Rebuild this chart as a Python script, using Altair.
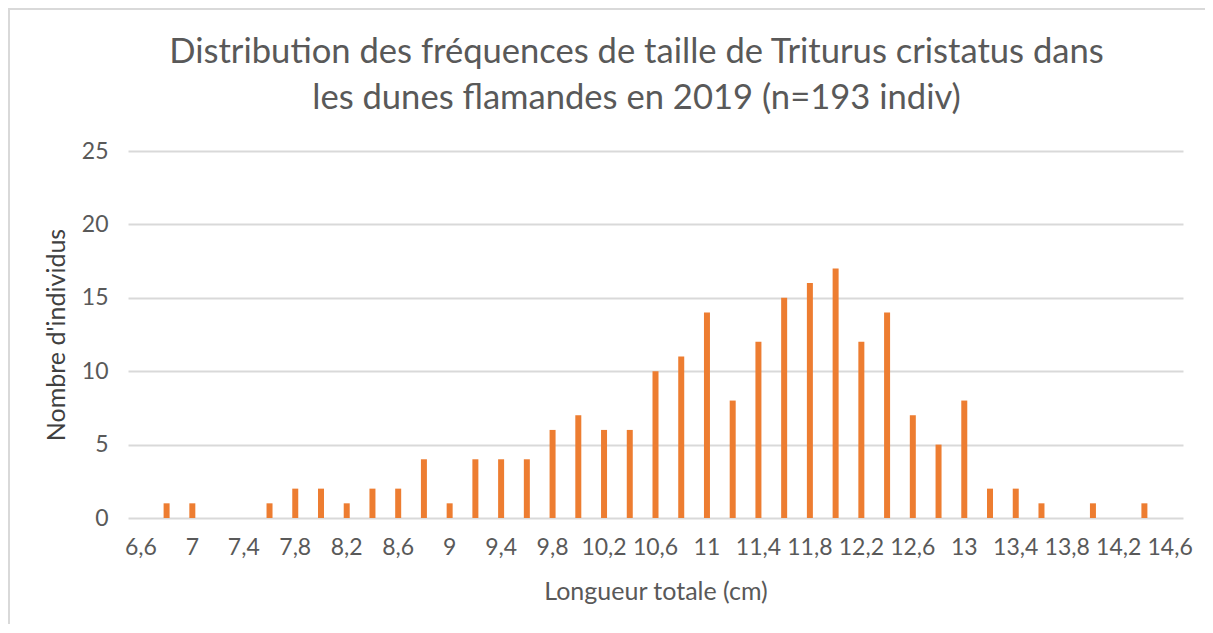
import altair as alt
import pandas as pd

lengths = ["6,6", "6,8", "7", "7,2", "7,4", "7,6", "7,8", "8", "8,2", "8,4", "8,6",
           "8,8", "9", "9,2", "9,4", "9,6", "9,8", "10", "10,2", "10,4", "10,6",
           "10,8", "11", "11,2", "11,4", "11,6", "11,8", "12", "12,2", "12,4", "12,6",
           "12,8", "13", "13,2", "13,4", "13,6", "13,8", "14", "14,2", "14,4", "14,6"]
counts = [0, 1, 1, 0, 0, 1, 2, 2, 1, 2, 2,
          4, 1, 4, 4, 4, 6, 7, 6, 6, 10,
          11, 14, 8, 12, 15, 16, 17, 12, 14, 7,
          5, 8, 2, 2, 1, 0, 1, 0, 1, 0]
shown_labels = lengths[::2]
y_ticks = [0, 5, 10, 15, 20, 25]

df = pd.DataFrame({"Longueur": lengths, "Nombre": counts})

FONT = "Lato"
GREY = "#595959"
BORDER = "#d9d9d9"

bars = alt.Chart(df).mark_bar(color="#ED7D31", size=6).encode(
    x=alt.X("Longueur:N", sort=lengths,
            scale=alt.Scale(paddingInner=0, paddingOuter=0),
            axis=alt.Axis(title="Longueur totale (cm)", values=shown_labels,
                          labelAngle=0, labelFontSize=23, labelColor=GREY,
                          labelPadding=18, ticks=False, domain=False, grid=False,
                          titleFontSize=25, titleColor=GREY, titleFontWeight="normal",
                          titlePadding=20, labelFont=FONT, titleFont=FONT)),
    y=alt.Y("Nombre:Q", scale=alt.Scale(domain=[0, 25]),
            axis=alt.Axis(title="Nombre d'individus", values=y_ticks,
                          labelFontSize=23, labelColor=GREY, labelPadding=20,
                          ticks=False, domain=False, grid=True, gridColor=BORDER,
                          gridWidth=2, titleFontSize=25, titleColor="#404040",
                          titleFontWeight="normal", titlePadding=12,
                          labelFont=FONT, titleFont=FONT)),
)

frame = alt.Data(values=[{}])
top_border = alt.Chart(frame).mark_rule(color=BORDER, strokeWidth=2).encode(
    x=alt.value(-120), x2=alt.value(1077), y=alt.value(-142))
left_border = alt.Chart(frame).mark_rule(color=BORDER, strokeWidth=2).encode(
    x=alt.value(-119), y=alt.value(-143), y2=alt.value(474))

chart = alt.layer(bars, top_border, left_border).properties(
    width=1055, height=367,
    padding={"left": 120, "top": 143, "right": 22, "bottom": 106},
    autosize=alt.AutoSizeParams(type="none"),
    background="white",
    title=alt.TitleParams(
        text=["Distribution des fréquences de taille de Triturus cristatus dans",
              "les dunes flamandes en 2019 (n=193 indiv)"],
        font=FONT, fontSize=34.6, fontWeight="normal", color=GREY,
        anchor="middle", lineHeight=46, offset=-110, dx=-19),
).configure_view(strokeWidth=0, stroke="transparent")

chart.save("out.html", embed_options={"renderer": "svg", "actions": False})
